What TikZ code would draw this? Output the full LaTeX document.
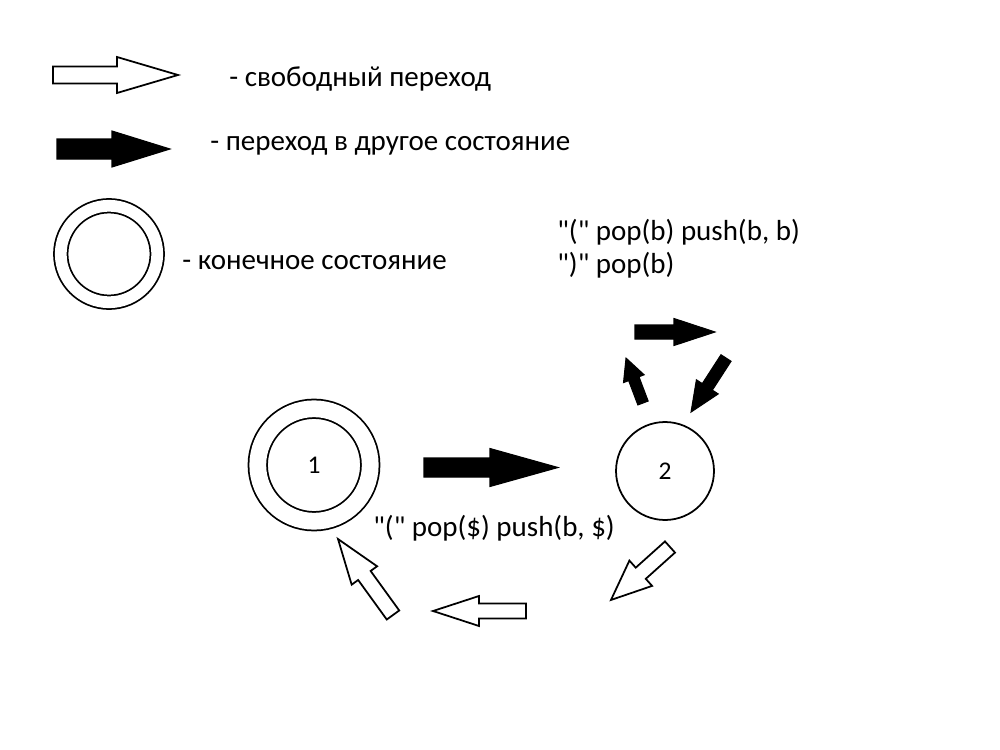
\documentclass[tikz,border=0pt]{standalone}
\usepackage{fontspec}
\setmainfont{Carlito}

\tikzset{
  pics/blockarrow/.style n args={4}{code={
    \draw[pic actions] (0,#2) -- ({#1-#4},#2) -- ({#1-#4},#3) -- (#1,0)
      -- ({#1-#4},-#3) -- ({#1-#4},-#2) -- (0,-#2) -- cycle;
  }},
  freearrow/.style={draw=black,fill=white,line width=1pt},
  movearrow/.style={draw=black,fill=black,line width=0.6pt},
  state/.style={circle,draw,line width=1pt,inner sep=0pt,minimum size=1.96cm,
    font=\fontsize{14.5}{17}\selectfont},
  final/.style={state,double,double distance=0.335cm,minimum size=2.25cm},
  label/.style={anchor=base west,inner sep=0pt,font=\fontsize{16.5}{18.7}\selectfont,align=left}
}
\newcommand{\qt}{\textquotedbl}

\begin{document}
\begin{tikzpicture}[x=0.02cm,y=-0.02cm]
  \useasboundingbox (0,0) rectangle (1000,750);

  % Legend
  \pic[freearrow] at (53,75) {blockarrow={125}{8.5}{18}{61}};
  \node[label] (free) at (229,87) {- свободный переход};
  \pic[movearrow] at (57,149) {blockarrow={113}{10}{18}{58}};
  \node[label] (move) at (210,151) {- переход в другое состояние};
  \node[final,minimum size=1.93cm,double distance=0.235cm] (fin) at (109,254) {};
  \node[label] (finl) at (182,269) {- конечное состояние};

  % States
  \node[final] (s1) at (314,465) {1};
  \node[state] (s2) at (665,471) {2};

  % Transition 1 -> 2
  \pic[movearrow] at (424,467.5) {blockarrow={134}{9.5}{19}{68}};
  \node[label] (t12) at (373,536) {\qt(\qt{} pop(\$) push(b, \$)};

  % Loop on 2
  \pic[movearrow,rotate=110.7] at (643,403) {blockarrow={48}{5.5}{11}{22}};
  \pic[movearrow] at (635,332) {blockarrow={80}{7}{13.5}{41}};
  \pic[movearrow,rotate=237.1] at (726,358) {blockarrow={64.4}{6}{13}{30}};
  \node[label,anchor=west] (t22) at (557,249) {\qt(\qt{} pop(b) push(b, b)\\\qt)\qt{} pop(b)};

  % Free return 2 -> 1
  \pic[freearrow,rotate=221.9] at (670,547) {blockarrow={79.3}{7.5}{17}{40}};
  \pic[freearrow,rotate=180] at (526,611) {blockarrow={93}{7.5}{15}{46}};
  \pic[freearrow,rotate=125.9] at (393,615) {blockarrow={93.8}{7.7}{15.7}{45}};
\end{tikzpicture}
\end{document}
